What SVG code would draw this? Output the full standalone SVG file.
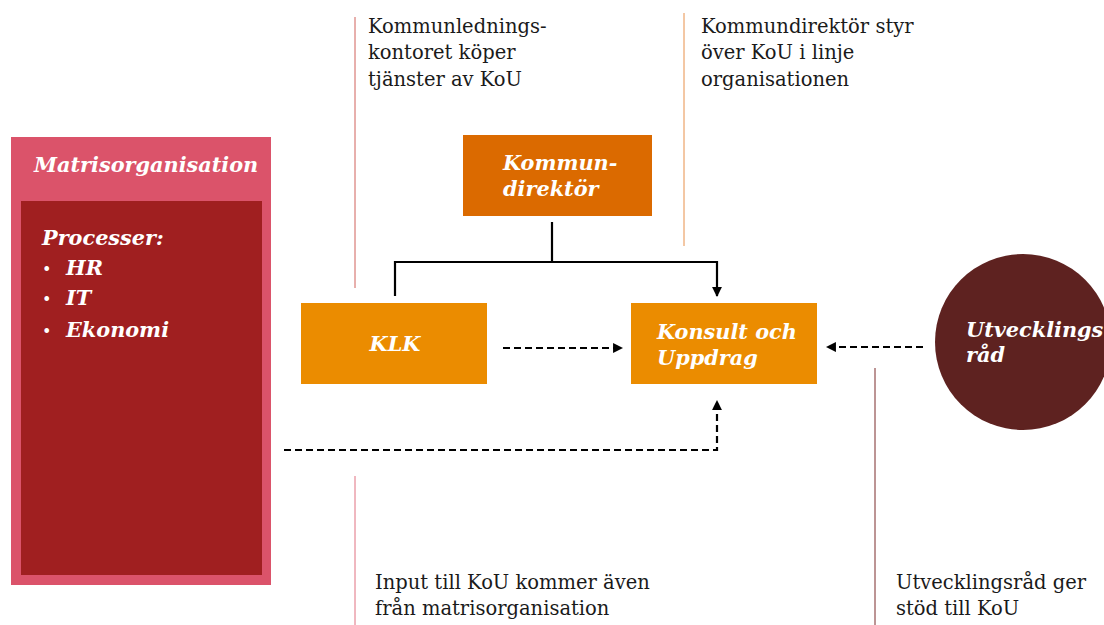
<svg xmlns="http://www.w3.org/2000/svg" width="1104" height="625" viewBox="0 0 1104 625">
<style>
.note{font-family:"DejaVu Serif","Liberation Serif",serif;font-size:19.5px;fill:#1a1a1a}
.lbl{font-family:"DejaVu Serif","Liberation Serif",serif;font-size:20.8px;font-weight:bold;font-style:italic;fill:#ffffff}
.bul{font-family:"DejaVu Serif","Liberation Serif",serif;font-size:16px;fill:#ffffff}
.solid{stroke:#000;stroke-width:2.2;fill:none}
.dash{stroke:#000;stroke-width:2.2;fill:none;stroke-dasharray:7 4}
</style>
<defs>
<marker id="ah" viewBox="0 0 10 10" refX="9" refY="5" markerWidth="4.5" markerHeight="4.5" orient="auto" markerUnits="strokeWidth">
<path d="M0,0 L10,5 L0,10 z" fill="#000"/>
</marker>
</defs>
<rect width="1104" height="625" fill="#fff"/>
<g id="guides">
<line x1="355" y1="17" x2="355" y2="288" stroke="#D0605A" stroke-width="1"/>
<line x1="684" y1="13" x2="684" y2="246" stroke="#E8904A" stroke-width="1"/>
<line x1="355" y1="476" x2="355" y2="625" stroke="#E07080" stroke-width="1"/>
<line x1="875" y1="368" x2="875" y2="625" stroke="#7A2A2A" stroke-width="1"/>
</g>
<g id="note1"><text class="note" x="368" y="33">Kommunlednings-</text><text class="note" x="368" y="59">kontoret köper</text><text class="note" x="368" y="86">tjänster av KoU</text></g>
<g id="note2"><text class="note" x="701" y="33">Kommundirektör styr</text><text class="note" x="701" y="59">över KoU i linje</text><text class="note" x="701" y="86">organisationen</text></g>
<g id="note3"><text class="note" x="375" y="589">Input till KoU kommer även</text><text class="note" x="375" y="615">från matrisorganisation</text></g>
<g id="note4"><text class="note" x="896" y="589">Utvecklingsråd ger</text><text class="note" x="896" y="615">stöd till KoU</text></g>
<g id="matris">
<rect x="11" y="137" width="260" height="448" fill="#DB536A"/>
<rect x="21" y="201" width="241" height="374" fill="#A01F20"/>
<text class="lbl" x="34" y="172">Matrisorganisation</text>
<text class="lbl" x="42" y="245">Processer:</text>
<text class="bul" x="42" y="275">•</text><text class="lbl" x="66" y="275">HR</text>
<text class="bul" x="42" y="305">•</text><text class="lbl" x="66" y="305">IT</text>
<text class="bul" x="42" y="337">•</text><text class="lbl" x="66" y="337">Ekonomi</text>
</g>
<g id="kommundirektor">
<rect x="463" y="135" width="189" height="81" fill="#DB6A00"/>
<text class="lbl" x="503" y="170">Kommun-</text>
<text class="lbl" x="503" y="196">direktör</text>
</g>
<g id="klk">
<rect x="301" y="303" width="186" height="81" fill="#EB8C00"/>
<text class="lbl" x="395" y="351" text-anchor="middle">KLK</text>
</g>
<g id="kou">
<rect x="631" y="303" width="186" height="81" fill="#EB8C00"/>
<text class="lbl" x="657" y="339">Konsult och</text>
<text class="lbl" x="657" y="365">Uppdrag</text>
</g>
<g id="utvecklingsrad">
<circle cx="1023" cy="342" r="88" fill="#5E2220"/>
<text class="lbl" x="966" y="337">Utvecklings</text>
<text class="lbl" x="966" y="362">råd</text>
</g>
<g id="connectors">
<path class="solid" d="M552,222 V262 M395,296 V262 H717 V296" marker-end="url(#ah)"/>
<path class="dash" d="M503,348 H622" marker-end="url(#ah)"/>
<path class="dash" d="M923,347 H827" marker-end="url(#ah)"/>
<path class="dash" d="M284,450 H717 V401" marker-end="url(#ah)"/>
</g>
</svg>
